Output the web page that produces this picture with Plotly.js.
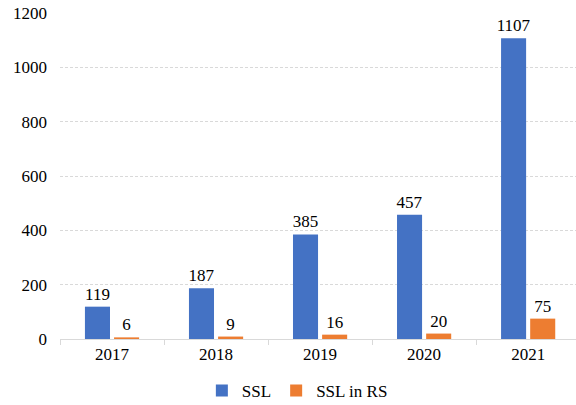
<!DOCTYPE html>
<html>
<head>
<meta charset="utf-8">
<script src="https://cdn.plot.ly/plotly-3.0.1.min.js"></script>
<style>html,body{margin:0;padding:0;background:#fff;}#chart{width:576px;height:405px;}</style>
</head>
<body>
<div id="chart"></div>
<script>
const years = ['2017', '2018', '2019', '2020', '2021'];
const ssl = [119, 187, 385, 457, 1107];
const sslInRS = [6, 9, 16, 20, 75];
const seriesNames = ['SSL', 'SSL in RS'];
const yTicks = [0, 200, 400, 600, 800, 1000, 1200];

const font = {family: '"Liberation Serif"', size: 17, color: '#000'};

const traces = [
  {type: 'bar', name: seriesNames[0], x: years, y: ssl, marker: {color: '#4472C4'},
   text: ssl.map(String), textposition: 'outside', constraintext: 'none', cliponaxis: false, textfont: font},
  {type: 'bar', name: seriesNames[1], x: years, y: sslInRS, marker: {color: '#ED7D31'},
   text: sslInRS.map(String), textposition: 'outside', constraintext: 'none', cliponaxis: false, textfont: font}
];

const layout = {
  width: 576, height: 405,
  margin: {l: 60, r: 0, t: 13, b: 66, autoexpand: false},
  paper_bgcolor: '#fff', plot_bgcolor: '#fff',
  font: font,
  barmode: 'group', bargap: 0.44, bargroupgap: 0.14,
  showlegend: true,
  legend: {orientation: 'h', x: 0.46, xanchor: 'center', yref: 'container', y: 0.035, yanchor: 'middle', font: font, itemwidth: 30},
  xaxis: {type: 'category', range: [-0.5, 4.46], showgrid: false, showline: true, linecolor: '#d9d9d9', linewidth: 1,
          ticks: 'outside', tickson: 'boundaries', ticklen: 5, tickcolor: '#d9d9d9', tickfont: font, zeroline: false, automargin: false},
  yaxis: {range: [0, 1200], tickvals: yTicks, showgrid: true, gridcolor: '#d9d9d9', griddash: '3px,2px', gridwidth: 1,
          zeroline: false, showline: false, ticks: '', tickfont: font, ticklabelstandoff: 12, automargin: false}
};

Plotly.newPlot('chart', traces, layout, {staticPlot: true, displayModeBar: false});
</script>
</body>
</html>
